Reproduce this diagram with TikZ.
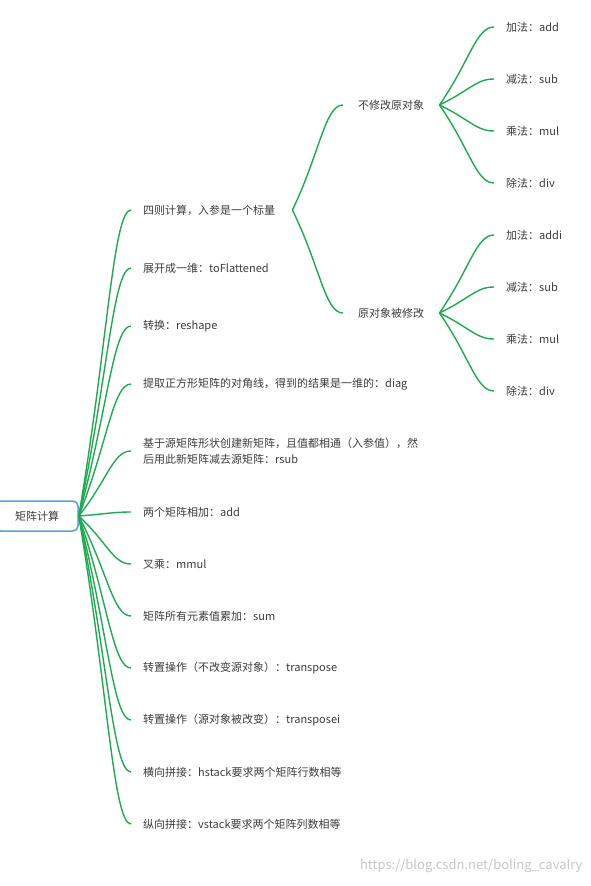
\documentclass[tikz,border=0pt]{standalone}
\usepackage{fontspec}
\setmainfont{Noto Sans CJK SC}
\usetikzlibrary{positioning,calc}

\definecolor{mapgreen}{RGB}{30,170,80}
\definecolor{mapblue}{RGB}{90,160,220}
\definecolor{maptext}{RGB}{60,60,60}

\tikzset{
  topic/.style={draw=mapblue, line width=1.5pt, rounded corners=5pt, fill=white,
    minimum width=82pt, minimum height=30pt, text=maptext, font=\fontsize{11}{14}\selectfont},
  leaf/.style={anchor=west, inner xsep=12pt, inner ysep=2pt, text=maptext,
    font=\fontsize{11}{16}\selectfont, align=left},
  fork/.style={leaf, inner xsep=15pt},
  branch/.style={draw=mapgreen, line width=1.4pt},
}
\newcommand{\branchto}[2]{\draw[branch] (#1) .. controls ($(#1)!0.55!(#2)$) and ($(#2)+(-18,0)$) .. (#2);}

\begin{document}
\begin{tikzpicture}[x=1pt,y=-1pt]
  \useasboundingbox (0,0) rectangle (590,886); %Page size

  \node[topic] (root) at (37,516) {矩阵计算}; %Root topic

  \node[leaf] (four) at (131,210) {四则计算，入参是一个标量}; %First level
  \node[leaf] (flat) at (131,268) {展开成一维：toFlattened};
  \node[leaf] (reshape) at (131,326) {转换：reshape};
  \node[leaf] (diag) at (131,384) {提取正方形矩阵的对角线，得到的结果是一维的：diag};
  \node[leaf] (rsub) at (131,451) {基于源矩阵形状创建新矩阵，且值都相通（入参值），然\\后用此新矩阵减去源矩阵：rsub};
  \node[leaf] (madd) at (131,512) {两个矩阵相加：add};
  \node[leaf] (mmul) at (131,564) {叉乘：mmul};
  \node[leaf] (sum) at (131,616) {矩阵所有元素值累加：sum};
  \node[leaf] (trans) at (131,668) {转置操作（不改变源对象）：transpose};
  \node[leaf] (transi) at (131,720) {转置操作（源对象被改变）：transposei};
  \node[leaf] (hstack) at (131,772) {横向拼接：hstack要求两个矩阵行数相等};
  \node[leaf] (vstack) at (131,824) {纵向拼接：vstack要求两个矩阵列数相等};

  \node[fork] (keep) at (343,105) {不修改原对象}; %Second level
  \node[fork] (change) at (343,313) {原对象被修改};

  \node[leaf] (kadd) at (494,27) {加法：add}; %Third level, not modified
  \node[leaf] (ksub) at (494,79) {减法：sub};
  \node[leaf] (kmul) at (494,131) {乘法：mul};
  \node[leaf] (kdiv) at (494,183) {除法：div};

  \node[leaf] (cadd) at (494,235) {加法：addi}; %Third level, modified
  \node[leaf] (csub) at (494,287) {减法：sub};
  \node[leaf] (cmul) at (494,339) {乘法：mul};
  \node[leaf] (cdiv) at (494,391) {除法：div};

  \branchto{root.east}{four.west} %Root branches
  \branchto{root.east}{flat.west}
  \branchto{root.east}{reshape.west}
  \branchto{root.east}{diag.west}
  \branchto{root.east}{rsub.west}
  \branchto{root.east}{madd.west}
  \branchto{root.east}{mmul.west}
  \branchto{root.east}{sum.west}
  \branchto{root.east}{trans.west}
  \branchto{root.east}{transi.west}
  \branchto{root.east}{hstack.west}
  \branchto{root.east}{vstack.west}

  \branchto{[xshift=5pt]four.east}{keep.west} %Second level branches
  \branchto{[xshift=5pt]four.east}{change.west}

  \branchto{keep.east}{kadd.west} %Third level branches
  \branchto{keep.east}{ksub.west}
  \branchto{keep.east}{kmul.west}
  \branchto{keep.east}{kdiv.west}
  \branchto{change.east}{cadd.west}
  \branchto{change.east}{csub.west}
  \branchto{change.east}{cmul.west}
  \branchto{change.east}{cdiv.west}

  \node[anchor=east, text=black!22, font=\fontsize{13}{15}\selectfont] (mark) at (586,866) {https://blog.csdn.net/boling\_cavalry}; %Watermark
\end{tikzpicture}
\end{document}
